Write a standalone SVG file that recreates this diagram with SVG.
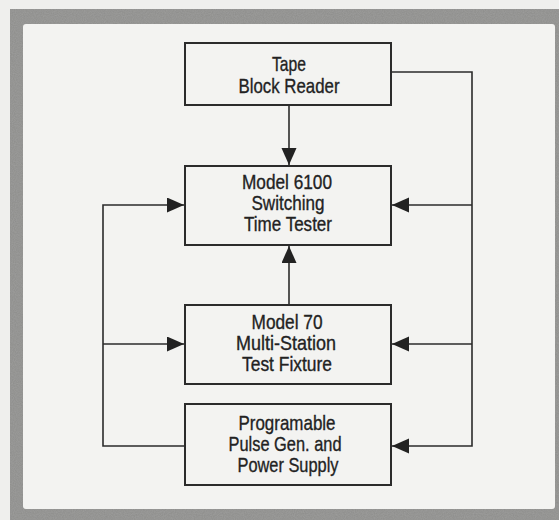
<svg xmlns="http://www.w3.org/2000/svg" width="559" height="520" viewBox="0 0 559 520">
<defs>
<marker id="ah" markerUnits="userSpaceOnUse" markerWidth="18" markerHeight="16" refX="17" refY="7.5" orient="auto">
<path d="M0,0 L17,7.5 L0,15 Z" fill="#222"/>
</marker>
<filter id="grain" x="0" y="0" width="100%" height="100%">
<feTurbulence type="fractalNoise" baseFrequency="0.9" numOctaves="2" seed="3"/>
<feColorMatrix type="matrix" values="0 0 0 0 0.5  0 0 0 0 0.5  0 0 0 0 0.5  0 0 0 0.35 0"/>
<feComposite in2="SourceGraphic" operator="in"/>
</filter>
</defs>
<style>
.box{fill:none;stroke:#2b2b2b;stroke-width:2}
.lbl{font-family:"Liberation Sans",Arial,sans-serif;font-size:21px;fill:#222;stroke:#222;stroke-width:0.35;text-anchor:middle}
.wire{fill:none;stroke:#2b2b2b;stroke-width:1.6}
</style>
<rect x="0" y="0" width="559" height="520" fill="#efefed"/>
<rect x="10" y="9" width="560" height="520" fill="#8d8d8b"/>
<rect x="10" y="9" width="560" height="520" fill="#8d8d8b" filter="url(#grain)"/>
<rect x="23" y="24" width="532" height="485" rx="3" fill="#f3f3f1"/>

<g id="connectors">
<path class="wire" d="M289,105 V165" marker-end="url(#ah)"/>
<path class="wire" d="M289,305 V246" marker-end="url(#ah)"/>
<path class="wire" d="M391,72 H472 V446 H392" marker-end="url(#ah)"/>
<path class="wire" d="M472,205 H392" marker-end="url(#ah)"/>
<path class="wire" d="M472,344 H392" marker-end="url(#ah)"/>
<path class="wire" d="M185,446 H103 V205 H184" marker-end="url(#ah)"/>
<path class="wire" d="M103,344 H184" marker-end="url(#ah)"/>
</g>

<g id="tape">
<rect class="box" x="185" y="43" width="206" height="62"/>
<text class="lbl" x="289" y="71" textLength="34" lengthAdjust="spacingAndGlyphs">Tape</text>
<text class="lbl" x="289" y="93" textLength="101" lengthAdjust="spacingAndGlyphs">Block Reader</text>
</g>

<g id="tester">
<rect class="box" x="185" y="166" width="206" height="79"/>
<text class="lbl" x="287" y="189" textLength="90" lengthAdjust="spacingAndGlyphs">Model 6100</text>
<text class="lbl" x="288" y="210" textLength="73" lengthAdjust="spacingAndGlyphs">Switching</text>
<text class="lbl" x="288" y="231" textLength="88" lengthAdjust="spacingAndGlyphs">Time Tester</text>
</g>

<g id="fixture">
<rect class="box" x="185" y="305" width="206" height="79"/>
<text class="lbl" x="287" y="329" textLength="71" lengthAdjust="spacingAndGlyphs">Model 70</text>
<text class="lbl" x="286" y="350" textLength="100" lengthAdjust="spacingAndGlyphs">Multi-Station</text>
<text class="lbl" x="287" y="371" textLength="90" lengthAdjust="spacingAndGlyphs">Test Fixture</text>
</g>

<g id="pulsegen">
<rect class="box" x="185" y="404" width="206" height="81"/>
<text class="lbl" x="287" y="430" textLength="97" lengthAdjust="spacingAndGlyphs">Programable</text>
<text class="lbl" x="285" y="451" textLength="113" lengthAdjust="spacingAndGlyphs">Pulse Gen. and</text>
<text class="lbl" x="288" y="472" textLength="101" lengthAdjust="spacingAndGlyphs">Power Supply</text>
</g>
</svg>
